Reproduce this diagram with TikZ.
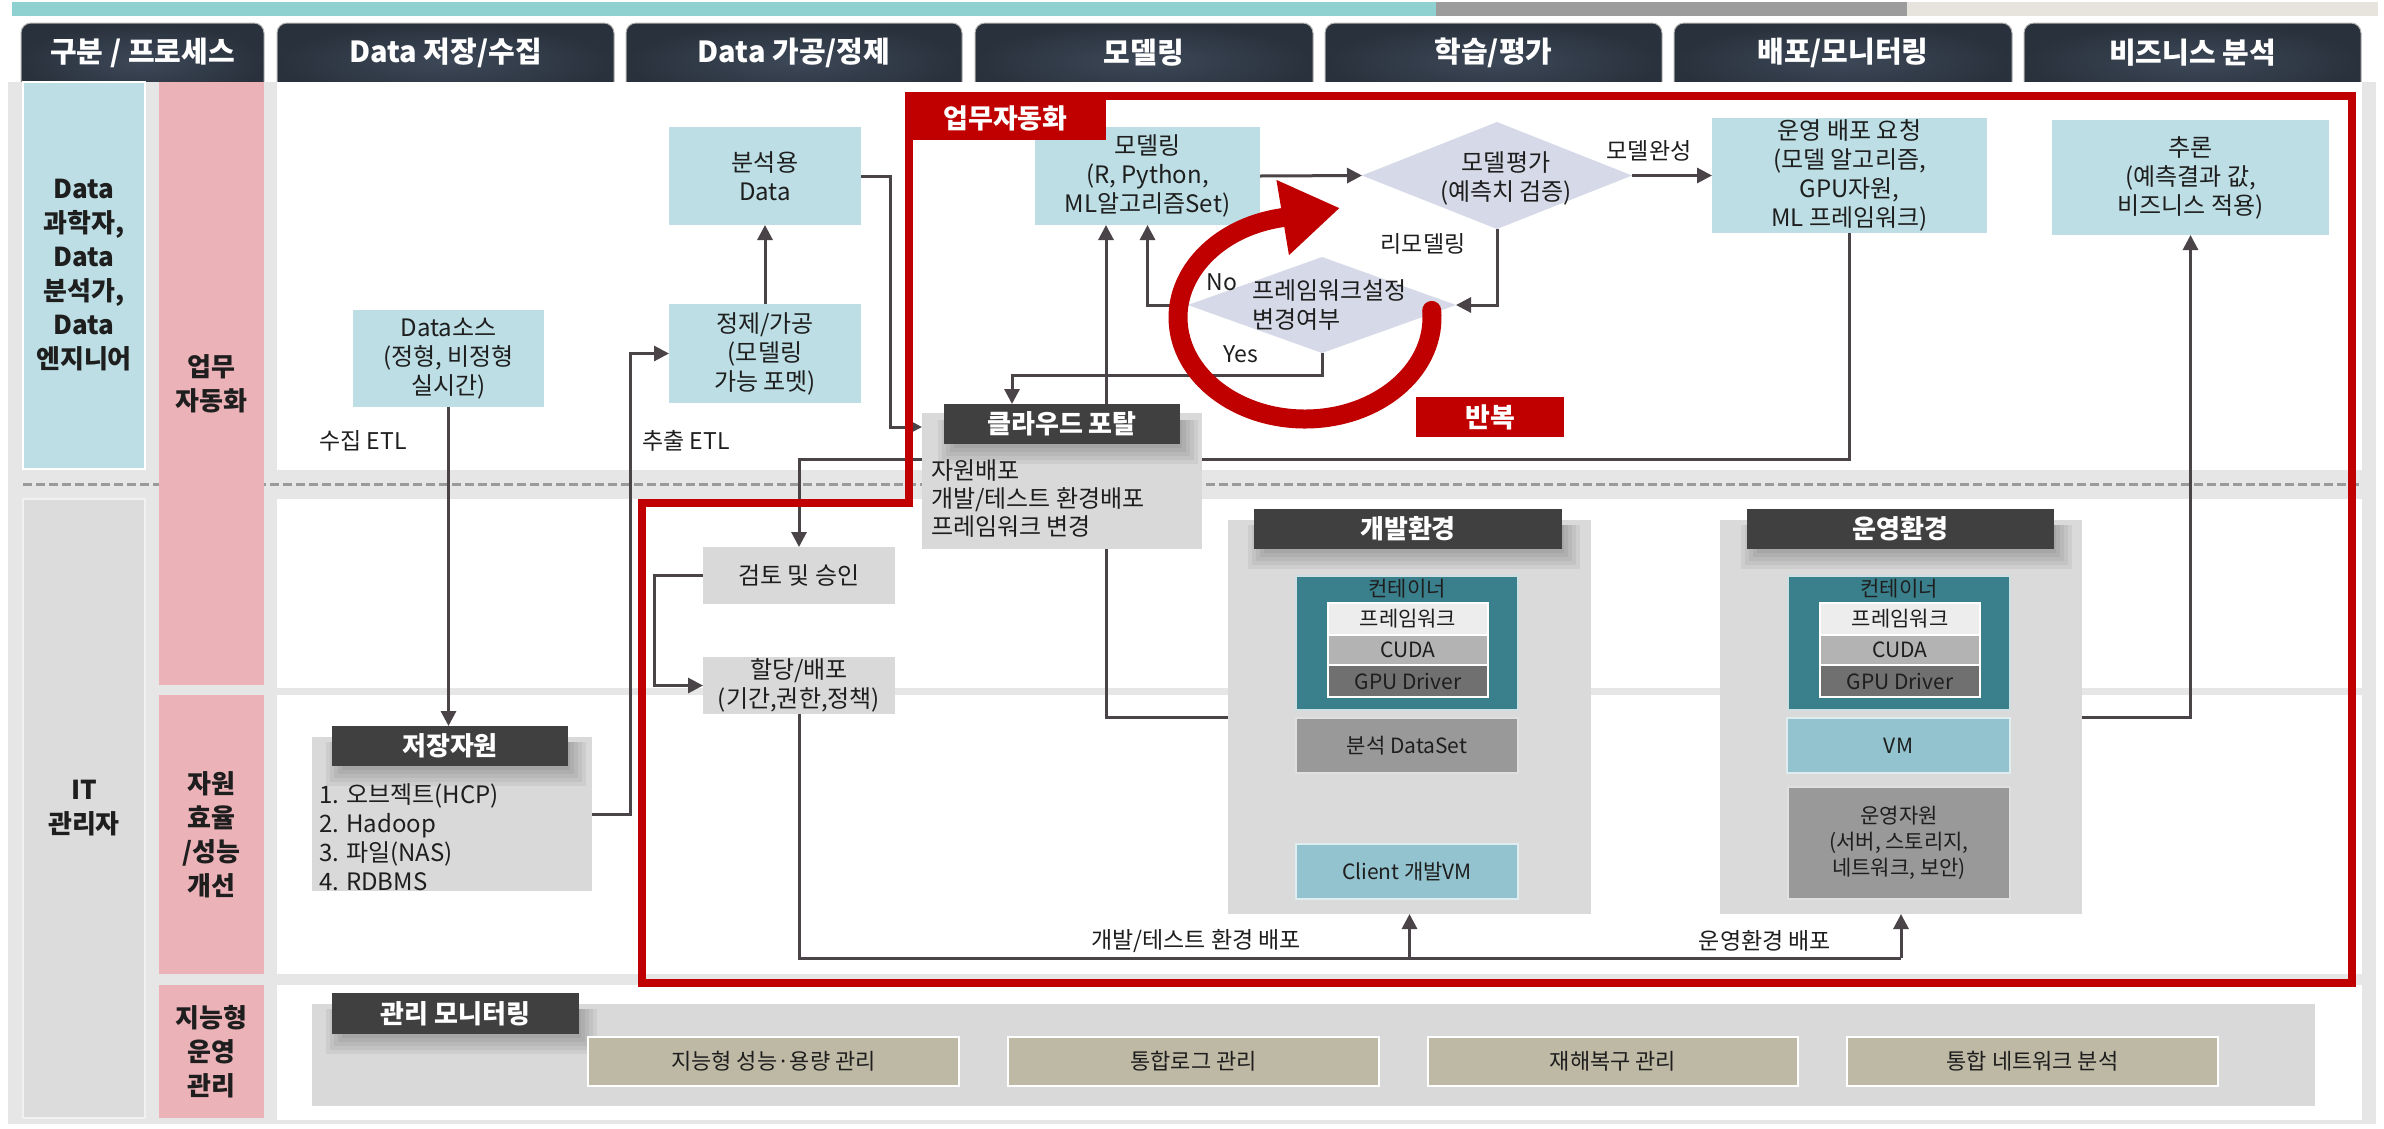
\documentclass[tikz,border=0pt]{standalone}
\usepackage{fontspec}
\setmainfont{Noto Sans CJK KR}
\usetikzlibrary{arrows.meta,shapes.geometric}
\definecolor{lblue}{HTML}{BCDEE4}
\definecolor{pinkc}{HTML}{EBB2B8}
\definecolor{bodyg}{HTML}{E6E6E6}
\definecolor{lgray}{HTML}{D9D9D9}
\definecolor{darkc}{HTML}{404040}
\definecolor{hdrA}{HTML}{3D4858}
\definecolor{hdrB}{HTML}{29313C}
\definecolor{redc}{HTML}{C00000}
\definecolor{lav}{HTML}{D6D9E7}
\definecolor{contc}{HTML}{3A7F8C}
\definecolor{vmc}{HTML}{93C3CF}
\definecolor{midg}{HTML}{999999}
\definecolor{khc}{HTML}{BEB9A4}
\definecolor{lc}{HTML}{4A4347}
\definecolor{topteal}{HTML}{8FD0D0}
\definecolor{topgray}{HTML}{9C9C9C}
\definecolor{topbeige}{HTML}{E6E4DC}
\definecolor{outerg}{HTML}{DADADA}
\definecolor{itg}{HTML}{DCDCDC}
\definecolor{fwrow}{HTML}{EDEDED}
\definecolor{cudarow}{HTML}{B3B3B3}
\definecolor{gpurow}{HTML}{707070}
\definecolor{txtc}{HTML}{1E1E1E}
\definecolor{dashc}{HTML}{9A9A9A}
\pgfdeclarelayer{bgl}
\pgfdeclarelayer{midl}
\pgfsetlayers{bgl,midl,main}
% soft shadow below a dark header: left, top, right, bottom
\newcommand\mysoftshadow[4]{%
  \foreach \d in {0,4,8,12,16}{%
    \fill[black,opacity=0.05] ({#1+10-\d},{#2+16}) rectangle ({#3+2+\d},{#4+4+\d});}}
\begin{document}
\begin{tikzpicture}[x=1pt,y=-1pt,
  every node/.style={inner sep=0pt, outer sep=0pt},
  box/.style={align=center, text=txtc, font=\fontsize{24}{29}\selectfont},
  lbx/.style={box, fill=lblue},
  gbx/.style={box, fill=lgray},
  dkx/.style={fill=darkc, text=white, font=\bfseries\fontsize{26}{30}\selectfont},
  hdrtxt/.style={text=white, font=\bfseries\fontsize{29}{32}\selectfont},
  sidetxt/.style={align=center, text=txtc, font=\bfseries\fontsize{26}{34}\selectfont},
  lbl/.style={text=txtc, font=\fontsize{23}{28}\selectfont},
  smallbx/.style={align=center, text=txtc, font=\fontsize{21}{26}\selectfont},
  arr/.style={draw=lc, line width=3pt, -{Triangle[length=15pt,width=15pt]}},
  ln/.style={draw=lc, line width=3pt},
  dia/.style={diamond, fill=lav},
  khx/.style={box, fill=khc, draw=white, line width=2pt, font=\fontsize{22}{26}\selectfont},
  hdrshade/.style={inner color=hdrA, outer color=hdrB, draw=gray!60, line width=1pt, rounded corners=10pt},
  redlbl/.style={fill=redc, text=white, font=\bfseries\fontsize{27}{30}\selectfont}
]
\useasboundingbox (0,0) rectangle (2384,1128);

\begin{pgfonlayer}{bgl}
  % top bar
  \fill[topteal] (12,2) rectangle (1436,16);
  \fill[topgray] (1436,2) rectangle (1907,16);
  \fill[topbeige] (1907,2) rectangle (2378,16);
  % header tabs
  \shadedraw[hdrshade] (21,23) rectangle (264,100);
  \shadedraw[hdrshade] (277,23) rectangle (614,100);
  \shadedraw[hdrshade] (626,23) rectangle (962,100);
  \shadedraw[hdrshade] (975,23) rectangle (1313,100);
  \shadedraw[hdrshade] (1325,23) rectangle (1662,100);
  \shadedraw[hdrshade] (1674,23) rectangle (2012,100);
  \shadedraw[hdrshade] (2024,23) rectangle (2361,100);
  % body
  \fill[bodyg] (8,82) rectangle (2376,1124);
  \fill[white] (277,82) rectangle (2362,470);
  \fill[white] (277,499) rectangle (2362,688);
  \fill[white] (277,695) rectangle (2362,974);
  \fill[white] (277,985) rectangle (2362,1120);
  \draw[dashc, line width=3pt, dash pattern=on 9pt off 4pt] (23,484) -- (2362,484);
\end{pgfonlayer}

% header texts
\node[hdrtxt] (h0) at (142.5,52.5) {구분 / 프로세스};
\node[hdrtxt] (h1) at (445.5,52.5) {Data 저장/수집};
\node[hdrtxt] (h2) at (794,52.5) {Data 가공/정제};
\node[hdrtxt] (h3) at (1144,52.5) {모델링};
\node[hdrtxt] (h4) at (1493.5,52.5) {학습/평가};
\node[hdrtxt] (h5) at (1843,52.5) {배포/모니터링};
\node[hdrtxt] (h6) at (2192.5,52.5) {비즈니스 분석};

% left columns
\node[sidetxt, fill=lblue, draw=white, line width=2pt, minimum width=122pt, minimum height=387pt] (sci) at (84,275.5) {Data\\과학자,\\Data\\분석가,\\Data\\엔지니어};
\node[sidetxt, fill=itg, draw=white!60!itg, line width=2pt, minimum width=122pt, minimum height=619pt] (itm) at (84,808.5) {IT\\관리자};
\node[sidetxt, fill=pinkc, minimum width=105pt, minimum height=603pt] (pk1) at (211.5,383.5) {업무\\자동화};
\node[sidetxt, fill=pinkc, minimum width=105pt, minimum height=279pt] (pk2) at (211.5,834.5) {자원\\효율\\/성능\\개선};
\node[sidetxt, fill=pinkc, minimum width=105pt, minimum height=133pt] (pk3) at (211.5,1051.5) {지능형\\운영\\관리};

% row 1 boxes
\node[lbx, minimum width=191pt, minimum height=97pt] (src) at (448.5,358.5) {Data소스\\(정형, 비정형\\실시간)};
\node[lbx, minimum width=192pt, minimum height=98pt] (ana) at (765,176) {분석용\\Data};
\node[lbx, minimum width=192pt, minimum height=99pt] (ref) at (765,353.5) {정제/가공\\(모델링\\가능 포멧)};
\node[lbx, minimum width=225pt, minimum height=98pt] (model) at (1147.5,176) {모델링\\(R, Python,\\ML알고리즘Set)};
\node[dia, minimum width=270pt, minimum height=107pt] (eval) at (1497,175.5) {};
\node[box] (evalt) at (1506,178) {모델평가\\(예측치 검증)};
\node[dia, minimum width=268pt, minimum height=96pt] (fw) at (1322,305) {};
\node[box, align=left, anchor=west] (fwt) at (1252,305) {프레임워크설정\\변경여부};
\node[lbx, minimum width=275pt, minimum height=115pt] (req) at (1849.5,175.5) {운영 배포 요청\\(모델 알고리즘,\\GPU자원,\\ML 프레임워크)};
\node[lbx, minimum width=277pt, minimum height=115pt] (infer) at (2190.5,177.5) {추론\\(예측결과 값,\\비즈니스 적용)};

% cloud portal
\node[gbx, minimum width=280pt, minimum height=136pt] (portal) at (1062,481) {};
\mysoftshadow{944}{404}{1180}{444}
\node[dkx, minimum width=236pt, minimum height=40pt] (phdr) at (1062,424) {클라우드 포탈};
\node[box, align=left, anchor=west, font=\fontsize{24}{28}\selectfont] (ptxt) at (931,499) {자원배포\\개발/테스트 환경배포\\프레임워크 변경};

% review / allocation
\node[gbx, minimum width=192pt, minimum height=57pt] (review) at (799,575.5) {검토 및 승인};
\node[gbx, minimum width=192pt, minimum height=57pt] (alloc) at (799,685.5) {할당/배포\\(기간,권한,정책)};

% storage
\node[gbx, minimum width=280pt, minimum height=154pt] (stor) at (452,814) {};
\mysoftshadow{332}{726}{568}{766}
\node[dkx, minimum width=236pt, minimum height=40pt] (sthdr) at (450,746) {저장자원};
\node[box, align=left, anchor=west] (stt) at (319,837) {1. 오브젝트(HCP)\\2. Hadoop\\3. 파일(NAS)\\4. RDBMS};

% dev environment
\node[fill=outerg, minimum width=363pt, minimum height=394pt] (dev) at (1409.5,717) {};
\mysoftshadow{1254}{509}{1562}{549}
\node[dkx, minimum width=308pt, minimum height=40pt] (devh) at (1408,529) {개발환경};
\node[fill=contc, draw=white!75!contc, line width=2pt, minimum width=222pt, minimum height=134pt] (devc) at (1407,643) {};
\node[smallbx] (devcl) at (1407,589) {컨테이너};
\node[smallbx, fill=fwrow, draw=white, line width=2pt, minimum width=160pt, minimum height=32pt] (devfw) at (1408,619) {프레임워크};
\node[smallbx, fill=cudarow, draw=white, line width=2pt, minimum width=160pt, minimum height=30pt] (devcu) at (1408,650) {CUDA};
\node[smallbx, fill=gpurow, draw=white, line width=2pt, minimum width=160pt, minimum height=32pt] (devgp) at (1408,681) {GPU Driver};
\node[smallbx, fill=midg, draw=white!70!midg, line width=2pt, minimum width=222pt, minimum height=55pt] (devds) at (1407,745.5) {분석 DataSet};
\node[smallbx, fill=vmc, draw=white!70!vmc, line width=2pt, minimum width=222pt, minimum height=55pt] (devvm) at (1407,871.5) {Client 개발VM};

% ops environment
\node[fill=outerg, minimum width=362pt, minimum height=394pt] (ops) at (1901,717) {};
\mysoftshadow{1747}{509}{2054}{549}
\node[dkx, minimum width=307pt, minimum height=40pt] (opsh) at (1900.5,529) {운영환경};
\node[fill=contc, draw=white!75!contc, line width=2pt, minimum width=222pt, minimum height=134pt] (opsc) at (1899,643) {};
\node[smallbx] (opscl) at (1899,589) {컨테이너};
\node[smallbx, fill=fwrow, draw=white, line width=2pt, minimum width=160pt, minimum height=32pt] (opsfw) at (1900,619) {프레임워크};
\node[smallbx, fill=cudarow, draw=white, line width=2pt, minimum width=160pt, minimum height=30pt] (opscu) at (1900,650) {CUDA};
\node[smallbx, fill=gpurow, draw=white, line width=2pt, minimum width=160pt, minimum height=32pt] (opsgp) at (1900,681) {GPU Driver};
\node[smallbx, fill=vmc, draw=white!70!vmc, line width=2pt, minimum width=223pt, minimum height=55pt] (opsvm) at (1898.5,745.5) {VM};
\node[smallbx, fill=midg, draw=white!70!midg, line width=2pt, minimum width=222pt, minimum height=112pt] (opsres) at (1899,843) {운영자원\\(서버, 스토리지,\\네트워크, 보안)};

% monitoring
\node[gbx, minimum width=2003pt, minimum height=102pt] (mon) at (1313.5,1055) {};
\mysoftshadow{332}{993}{579}{1034}
\node[dkx, minimum width=247pt, minimum height=41pt] (monh) at (455.5,1013.5) {관리 모니터링};
\node[khx, minimum width=371pt, minimum height=49pt] (k1) at (773.5,1061.5) {지능형 성능·용량 관리};
\node[khx, minimum width=371pt, minimum height=49pt] (k2) at (1193.5,1061.5) {통합로그 관리};
\node[khx, minimum width=370pt, minimum height=49pt] (k3) at (1613,1061.5) {재해복구 관리};
\node[khx, minimum width=371pt, minimum height=49pt] (k4) at (2032.5,1061.5) {통합 네트워크 분석};

% labels
\node[lbl] (l1) at (363,441) {수집 ETL};
\node[lbl] (l2) at (686,441) {추출 ETL};
\node[lbl] (l3) at (1649,151) {모델완성};
\node[lbl] (l4) at (1423,244) {리모델링};
\node[lbl] (l5) at (1222,282) {No};
\node[lbl] (l6) at (1241,354) {Yes};
\node[lbl] (l7) at (1196,941) {개발/테스트 환경 배포};
\node[lbl] (l8) at (1765,941) {운영환경 배포};

\coordinate (y459) at (0,459);
\coordinate (y958) at (0,958);

\begin{pgfonlayer}{midl}
  \draw[arr] (src.south) -- (src.south |- sthdr.north);
  \draw[arr] (stor.east) -- ++(38,0) |- (ref.west);
  \draw[arr] (ref.north) -- (ana.south);
  \draw[arr] (ana.east) -- ++(29,0) |- ([yshift=-14pt]portal.north west);
  \draw[arr] (model.east) -- (eval.west);
  \draw[arr] (eval.east) -- (req.west);
  \draw[arr] (eval.south) |- (fw.east);
  \draw[arr] (fw.west) -| (model.south);
  \draw[arr] (fw.south) -- ++(0,22) -| ([xshift=-50pt]phdr.north);
  \draw[arr] (dev.west) -| ([xshift=-41.5pt]model.south);
  \draw[arr] (req.south) -- (req.south |- y459) -| (review.north);
  \draw[arr] (review.west) -- ++(-49,0) |- (alloc.west);
  \draw[ln] (alloc.south) |- (ops.south |- y958);
  \draw[arr] (dev.south |- y958) -- (dev.south);
  \draw[arr] (ops.south |- y958) -- (ops.south);
  \draw[arr] (ops.east) -| (infer.south);
\end{pgfonlayer}

% red automation frame
\draw[redc, line width=8pt, line join=miter] (909,96) -- (2352,96) -- (2352,983) -- (642,983) -- (642,503) -- (909,503) -- cycle;
\node[redlbl, minimum width=201pt, minimum height=44pt] (autol) at (1005.5,118) {업무자동화};

% repeat loop
\draw[redc, line width=19pt, line cap=round, -{Triangle[length=58pt,width=72pt]}]
  (1305,317.5) ++(-4:127 and 101.5) arc[start angle=-4, end angle=258.6, x radius=127, y radius=101.5] -- ++(60,-10);
\node[redlbl, minimum width=148pt, minimum height=40pt] (rep) at (1490,417) {반복};
\end{tikzpicture}
\end{document}
